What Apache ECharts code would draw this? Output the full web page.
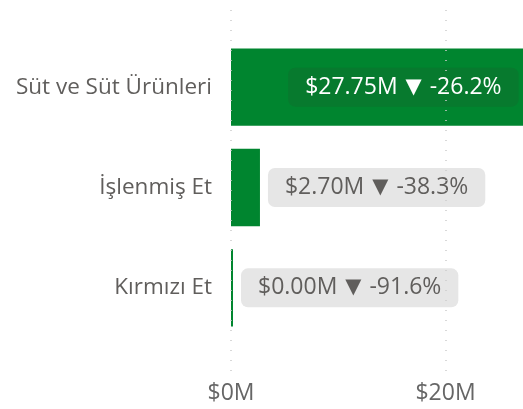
<!DOCTYPE html>
<html>
<head>
<meta charset="utf-8">
<script src="https://cdn.jsdelivr.net/npm/echarts@6/dist/echarts.min.js"></script>
<style>
html, body { margin: 0; background: #fff; }
#chart { width: 523px; height: 409px; }
</style>
</head>
<body>
<div id="chart"></div>
<script>
// kategoriler ve değerler (milyon $)
const categories = ['Süt ve Süt Ürünleri', 'İşlenmiş Et', 'Kırmızı Et'];
const sales = [27.75, 2.70, 0.004];
const changes = [-26.2, -38.3, -91.6];
const xTicks = [0, 20];

const font = 'Open Sans';
const green = '#00852f';

let chart = echarts.init(document.getElementById('chart'));

let barData = sales.map((v, i) => {
    let inside = i === 0;
    let txt = inside ? '#ffffff' : '#605e5c';
    return {
        value: v,
        label: {
            position: inside ? 'insideRight' : 'right',
            distance: inside ? 10 : 8,
            backgroundColor: inside ? '#077a2e' : '#e6e6e6',
            rich: {
                a: {color: txt, fontSize: 23, fontFamily: font, lineHeight: 23},
                t: {color: txt, fontSize: 21, fontFamily: 'DejaVu Sans', lineHeight: 23, padding: [0, 2]}
            }
        }
    };
});

chart.setOption({
    animation: false,
    grid: [
        {left: 231, top: 37, height: 301, width: 429, outerBoundsMode: 'none', containLabel: false},
        {left: 231, top: 10, height: 361, width: 429, outerBoundsMode: 'none', containLabel: false}
    ],
    xAxis: [
        {
            gridIndex: 0, type: 'value', min: xTicks[0], max: 40, interval: xTicks[1] - xTicks[0],
            axisLabel: {show: false}, axisLine: {show: false}, axisTick: {show: false}, splitLine: {show: false}
        },
        {
            gridIndex: 1, type: 'value', min: xTicks[0], max: 40, interval: xTicks[1] - xTicks[0],
            z: 5,
            axisLine: {show: false},
            axisTick: {show: false},
            axisLabel: {
                margin: 11, fontSize: 23, color: '#666666', fontFamily: font,
                formatter: v => '$' + v + 'M'
            },
            splitLine: {show: true, lineStyle: {color: '#cccccc', width: 1.5, type: [1, 9]}}
        }
    ],
    yAxis: [
        {
            gridIndex: 0, type: 'category', data: categories, inverse: true,
            axisLine: {show: false},
            axisTick: {show: false},
            axisLabel: {margin: 19, fontSize: 22.5, color: '#605e5c', fontFamily: font}
        },
        {gridIndex: 1, type: 'value', show: false, min: 0, max: 1}
    ],
    series: [
        {
            type: 'bar',
            xAxisIndex: 0,
            yAxisIndex: 0,
            data: barData,
            barCategoryGap: '23%',
            barMinHeight: 2,
            itemStyle: {color: green},
            label: {
                show: true,
                padding: [8, 17],
                borderRadius: 7,
                formatter: p => '{a|$' + p.value.toFixed(2) + 'M }{t|▼}{a| ' + changes[p.dataIndex].toFixed(1) + '%}'
            }
        }
    ]
});
</script>
</body>
</html>
